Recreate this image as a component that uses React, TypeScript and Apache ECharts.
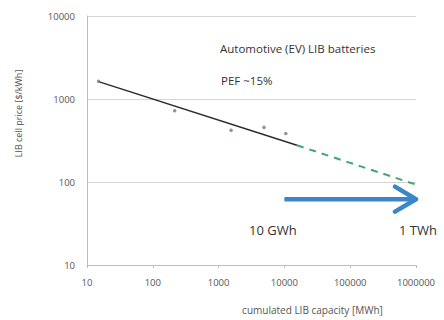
import React, { useEffect, useRef } from "react";
import * as echarts from "echarts";

// Observed data points: [cumulated capacity MWh, cell price $/kWh]
const observedPoints: [number, number][] = [
  [15, 1640],
  [215, 720],
  [1550, 420],
  [4900, 455],
  [10500, 385],
];
// Learning-curve fit (solid) and extrapolation (dashed)
const fitLine: [number, number][] = [
  [15, 1620],
  [15500, 277],
];
const extrapolation: [number, number][] = [
  [15500, 277],
  [1000000, 93],
];
// Blue arrow from 10 GWh to 1 TWh
const arrowShaft: [number, number][] = [
  [10000, 62],
  [960000, 62],
];
const arrowHead: [number, number][] = [
  [480000, 88],
  [1000000, 62],
  [480000, 44],
];
const annotations = [
  { text: "Automotive (EV) LIB batteries", x: 220, y: 50 },
  { text: "PEF ~15%", x: 221, y: 82 },
];
const scaleLabels = [
  { text: "10 GWh", x: 249, y: 232 },
  { text: "1 TWh", x: 399, y: 232 },
];

export default function App() {
  const ref = useRef<HTMLDivElement>(null);
  useEffect(() => {
    if (!ref.current) return;
    const chart = echarts.init(ref.current, undefined, { renderer: "svg" });
    const font = "Open Sans, DejaVu Sans, sans-serif";
    const fmt = (v: number) => String(Math.round(v));
    chart.setOption({
      animation: false,
      backgroundColor: "#ffffff",
      grid: { left: 87, right: 28, top: 16, bottom: 51 },
      xAxis: {
        type: "log",
        logBase: 10,
        min: 10,
        max: 1000000,
        name: "cumulated LIB capacity [MWh]",
        nameLocation: "middle",
        nameGap: 40,
        nameTextStyle: { fontSize: 10, color: "#555", fontFamily: font, padding: [0, 0, 0, 122] },
        axisLine: { show: true, lineStyle: { color: "#bdbdbd", width: 1 } },
        axisTick: { show: true, length: 3, lineStyle: { color: "#bdbdbd" } },
        axisLabel: { fontSize: 9.5, color: "#555", fontFamily: font, margin: 12, formatter: fmt },
        splitLine: { show: false },
      },
      yAxis: {
        type: "log",
        logBase: 10,
        min: 10,
        max: 10000,
        name: "LIB cell price [$/kWh]",
        nameLocation: "middle",
        nameGap: 64,
        nameTextStyle: { fontSize: 9, color: "#555", fontFamily: font, padding: [0, 0, 0, 54] },
        axisLine: { show: true, lineStyle: { color: "#bdbdbd", width: 1 } },
        axisTick: { show: false },
        axisLabel: { fontSize: 9.5, color: "#555", fontFamily: font, margin: 12, formatter: fmt },
        splitLine: { show: true, lineStyle: { color: "#d6d6d6", width: 1 } },
      },
      series: [
        {
          type: "line",
          data: fitLine,
          symbol: "none",
          lineStyle: { color: "#2b2b2b", width: 1.5 },
          z: 3,
        },
        {
          type: "line",
          data: extrapolation,
          symbol: "none",
          lineStyle: { color: "#3fa86a", width: 2, type: [7, 6] },
          z: 3,
        },
        {
          type: "scatter",
          data: observedPoints,
          symbol: "circle",
          symbolSize: 3.5,
          itemStyle: { color: "#6c7c8c" },
          z: 4,
        },
        {
          type: "line",
          data: arrowShaft,
          symbol: "none",
          lineStyle: { color: "#3a86c6", width: 4.5 },
          z: 5,
        },
        {
          type: "line",
          data: arrowHead,
          symbol: "none",
          lineStyle: { color: "#3a86c6", width: 4.5, cap: "round", join: "round" },
          z: 5,
        },
      ],
      graphic: [
        ...annotations.map((a) => ({
          type: "text",
          left: a.x,
          top: a.y - 8,
          style: { text: a.text, fontSize: 11.5, fill: "#333", fontFamily: font },
        })),
        ...scaleLabels.map((a) => ({
          type: "text",
          left: a.x,
          top: a.y - 9,
          style: { text: a.text, fontSize: 13, fill: "#333", fontFamily: font },
        })),
      ],
    });
    return () => chart.dispose();
  }, []);
  return (
    <div
      ref={ref}
      style={{ position: "fixed", left: 0, top: 0, width: 444, height: 320 }}
    />
  );
}
